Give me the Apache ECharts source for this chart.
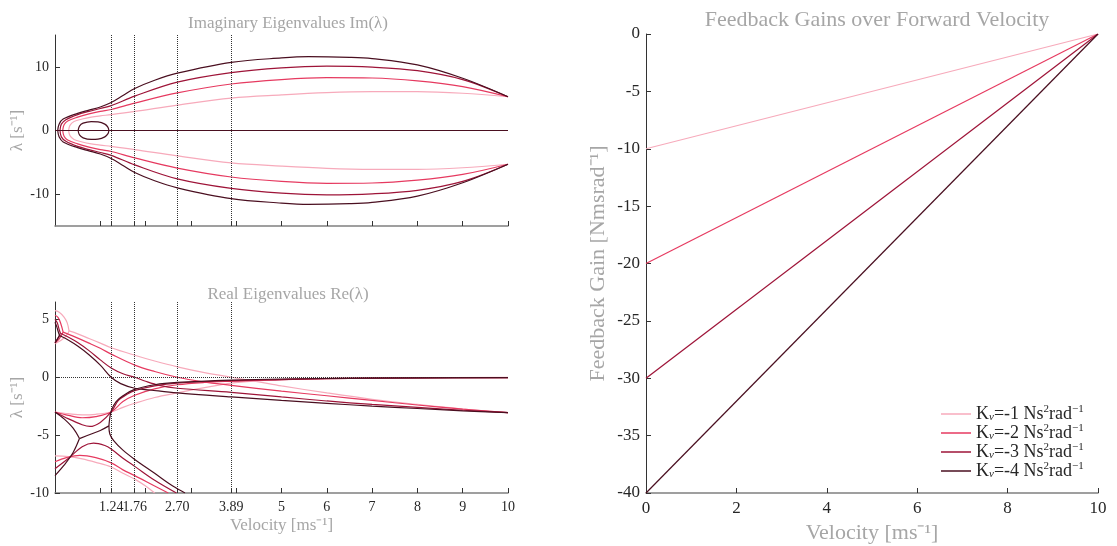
<!DOCTYPE html>
<html><head><meta charset="utf-8">
<script src="https://cdn.jsdelivr.net/npm/echarts@6/dist/echarts.min.js"></script>
<style>html,body{margin:0;padding:0;background:#fff}#c{width:1117px;height:546px}</style>
</head><body><div id="c"></div>
<script>
// ---------- data ----------
const kvValues = [-1, -2, -3, -4];
const seriesColors = ['#f7aabb', '#e63a60', '#9e1438', '#4a0f20'];
const critVel = [1.24, 1.76, 2.70, 3.89];
const velTicks = [1, 1.24, 1.76, 2, 2.70, 3, 3.89, 4, 5, 6, 7, 8, 9, 10];
const velLabelsA = [1.24, 2.70, 5, 7, 9];
const velLabelsB = [1.76, 3.89, 6, 8, 10];
const imTicks = [-10, 0, 10];
const reTicks = [-10, -5, 0, 5];

// Imaginary parts (upper half, conjugate pairs)
const im1 = [[0.30,0],[0.33,0.8],[0.42,1.4],[0.6,1.8],[0.8,2.1],[1.0,2.3],[1.24,2.5],[1.76,3.0],[2.7,4.0],[3.89,5.1],[5,5.6],[6,5.95],[7,6.1],[8,6.1],[9,5.85],[10,5.3]];
const im2 = [[0.17,0],[0.2,0.9],[0.28,1.5],[0.5,2.1],[0.75,2.6],[1.0,3.0],[1.24,3.3],[1.76,4.3],[2.7,5.9],[3.89,7.3],[5,8.0],[6,8.3],[7,8.25],[8,7.8],[9,6.9],[10,5.3]];
const im3 = [[0.11,0],[0.14,1.0],[0.24,1.7],[0.5,2.5],[0.75,3.0],[1.0,3.45],[1.24,3.9],[1.76,5.4],[2.7,7.6],[3.89,9.1],[5,9.85],[6,10.1],[7,9.95],[8,9.4],[9,8.0],[10,5.3]];
const im4 = [[0.06,0],[0.09,1.0],[0.18,1.8],[0.5,2.7],[0.75,3.2],[1.0,3.7],[1.24,4.4],[1.5,5.5],[1.76,6.6],[2.2,7.9],[2.7,9.0],[3.89,10.7],[5,11.4],[5.6,11.6],[6.5,11.5],[7,11.3],[8,10.3],[9,8.2],[10,5.3]];
const im4Loop = [[0.51,0],[0.54,0.7],[0.62,1.15],[0.8,1.4],[0.95,1.35],[1.1,1.0],[1.17,0.5],[1.19,0]];
const imZero = [[0,0],[10,0]];

// Real parts, Kv = -1
const re1Top = [[0,5.75],[0.1,5.6],[0.2,5.2],[0.27,4.7],[0.31,4.0]];
const re1Low = [[0,2.9],[0.1,3.1],[0.2,3.4],[0.27,3.7],[0.31,4.0]];
const re1Weave = [[0.31,4.0],[0.5,3.75],[0.75,3.35],[1.0,2.95],[1.24,2.55],[1.76,1.9],[2.2,1.4],[2.7,0.9],[3.3,0.4],[3.89,0],[4.5,-0.4],[5,-0.75],[6,-1.35],[7,-1.9],[8,-2.35],[9,-2.75],[10,-3.05]];
const re1Caps = [[0,-3.0],[0.3,-3.15],[0.6,-3.25],[0.9,-3.2],[1.24,-3.0],[1.5,-2.6],[1.76,-2.25],[2.2,-1.75],[2.7,-1.35],[3.3,-0.9],[3.89,-0.5],[4.5,-0.3],[5,-0.2],[6,-0.1],[7,-0.06],[8,-0.04],[10,-0.02]];
const re1Cast = [[0,-6.8],[0.3,-6.85],[0.6,-7.05],[0.9,-7.35],[1.24,-7.75],[1.5,-8.3],[1.76,-8.8],[2.0,-9.4],[2.2,-10.0]];

// Real parts, Kv = -2
const re2Top = [[0,5.35],[0.07,5.15],[0.13,4.6],[0.18,3.9]];
const re2Low = [[0,2.95],[0.07,3.2],[0.13,3.55],[0.18,3.9]];
const re2Weave = [[0.18,3.9],[0.4,3.55],[0.75,2.95],[1.0,2.5],[1.24,2.0],[1.76,1.05],[2.2,0.5],[2.7,0],[3.2,-0.35],[3.89,-0.7],[5,-1.2],[6,-1.6],[7,-2.0],[8,-2.4],[9,-2.75],[10,-3.05]];
const re2Caps = [[0,-3.0],[0.3,-3.3],[0.6,-3.5],[0.9,-3.4],[1.24,-3.0],[1.5,-2.1],[1.76,-1.55],[2.2,-1.0],[2.7,-0.65],[3.3,-0.45],[3.89,-0.35],[5,-0.2],[6,-0.12],[7,-0.08],[8,-0.05],[10,-0.03]];
const re2Cast = [[0,-7.3],[0.25,-6.95],[0.55,-6.75],[0.9,-6.95],[1.24,-7.4],[1.5,-8.0],[1.76,-8.5],[2.2,-9.4],[2.5,-10.0]];

// Real parts, Kv = -3
const re3Top = [[0,5.0],[0.05,4.7],[0.09,4.15],[0.12,3.8]];
const re3Low = [[0,3.0],[0.05,3.3],[0.09,3.55],[0.12,3.8]];
const re3Weave = [[0.12,3.8],[0.3,3.45],[0.5,3.0],[0.75,2.3],[1.0,1.5],[1.24,0.8],[1.5,0.3],[1.76,0],[2.0,-0.35],[2.3,-0.7],[2.7,-0.95],[3.89,-1.3],[5,-1.7],[6,-2.05],[7,-2.35],[8,-2.6],[9,-2.85],[10,-3.05]];
const re3Caps = [[0,-3.0],[0.3,-3.6],[0.6,-4.1],[0.77,-4.25],[1.0,-3.9],[1.24,-3.0],[1.4,-2.0],[1.6,-1.45],[1.76,-1.15],[2.2,-0.75],[2.7,-0.5],[3.89,-0.3],[5,-0.2],[6,-0.12],[8,-0.06],[10,-0.03]];
const re3Cast = [[0,-7.9],[0.3,-7.0],[0.6,-6.0],[0.85,-5.7],[1.1,-5.9],[1.24,-6.2],[1.5,-7.0],[1.76,-7.7],[2.2,-8.9],[2.68,-10.0]];

// Real parts, Kv = -4
const re4Top = [[0,4.75],[0.04,4.35],[0.07,3.95],[0.1,3.6]];
const re4Low = [[0,2.95],[0.04,3.2],[0.07,3.4],[0.1,3.6]];
const re4Weave = [[0.1,3.6],[0.3,3.2],[0.5,2.7],[0.75,1.95],[1.0,1.05],[1.24,0],[1.45,-0.55],[1.76,-0.95],[2.1,-1.1],[2.7,-1.35],[3.89,-1.7],[5,-2.0],[6,-2.25],[7,-2.5],[8,-2.7],[9,-2.9],[10,-3.05]];
const re4PairA = [[0,-3.0],[0.2,-3.6],[0.4,-4.4],[0.54,-5.3]];
const re4PairB = [[0,-8.5],[0.2,-7.6],[0.4,-6.5],[0.54,-5.3]];
const re4Cplx = [[0.54,-5.3],[0.8,-4.9],[1.0,-4.6],[1.19,-4.2]];
const re4Up = [[1.19,-4.2],[1.21,-3.5],[1.25,-2.8],[1.35,-2.1],[1.5,-1.6],[1.76,-1.05],[2.2,-0.65],[2.7,-0.45],[3.89,-0.25],[5,-0.15],[7,-0.08],[10,-0.03]];
const re4Down = [[1.19,-4.2],[1.21,-4.9],[1.3,-5.5],[1.5,-6.3],[1.76,-7.1],[2.2,-8.3],[2.6,-9.4],[2.87,-10.0]];

// Feedback gains
const gainVel = [0, 10];
const gain1 = [-10, 0];
const gain2 = [-20, 0];
const gain3 = [-30, 0];
const gain4 = [-40, 0];

// ---------- chart ----------
const FONT = 'Liberation Serif';
const TXT = '#262626';
const GRAY = '#a6a6a6';

const imBranches = [[im1], [im2], [im3], [im4, im4Loop]];
const reBranches = [
  [re1Top, re1Low, re1Weave, re1Caps, re1Cast],
  [re2Top, re2Low, re2Weave, re2Caps, re2Cast],
  [re3Top, re3Low, re3Weave, re3Caps, re3Cast],
  [re4Top, re4Low, re4Weave, re4PairA, re4PairB, re4Cplx, re4Up, re4Down]
];
const gains = [gain1, gain2, gain3, gain4];
const legendNames = kvValues.map(k => 'Kᵥ=' + k + ' Ns²rad⁻¹');

function lineSeries(name, data, color, xi, yi, z, smooth) {
  return {
    type: 'line', name: name, data: data, xAxisIndex: xi, yAxisIndex: yi,
    symbol: 'none', showSymbol: false, smooth: smooth, clip: true, z: z,
    lineStyle: { color: color, width: 1.2 }, itemStyle: { color: color },
    silent: true, animation: false
  };
}

const series = [];
kvValues.forEach((k, i) => {
  const c = seriesColors[i];
  imBranches[i].forEach((b, j) => {
    series.push(lineSeries('im' + i + 'p' + j, b, c, 0, 0, 2 + i, 0.35));
    series.push(lineSeries('im' + i + 'n' + j, b.map(p => [p[0], -p[1]]), c, 0, 0, 2 + i, 0.35));
  });
  series.push(lineSeries('im' + i + 'z', imZero, c, 0, 0, 2 + i, false));
  reBranches[i].forEach((b, j) => {
    series.push(lineSeries('re' + i + 'b' + j, b, c, 1, 1, 2 + i, 0.35));
  });
  series.push(lineSeries(legendNames[i], gainVel.map((v, n) => [v, gains[i][n]]), c, 2, 2, 2 + i, false));
});

const dotted = { type: 'dotted', color: '#333', width: 1 };
series.push({
  type: 'line', name: 'refIm', data: [], xAxisIndex: 0, yAxisIndex: 0, z: 10, silent: true,
  markLine: { symbol: 'none', silent: true, animation: false, label: { show: false }, lineStyle: dotted,
    data: critVel.map(v => ({ xAxis: v })) }
});
series.push({
  type: 'line', name: 'refRe', data: [], xAxisIndex: 1, yAxisIndex: 1, z: 10, silent: true,
  markLine: { symbol: 'none', silent: true, animation: false, label: { show: false }, lineStyle: dotted,
    data: critVel.map(v => ({ xAxis: v })).concat([{ yAxis: 0 }]) }
});

function fmtVel(v) {
  return Number.isInteger(v) ? String(v) : v.toFixed(2);
}

function xAx(grid, labels, name) {
  return {
    type: 'value', gridIndex: grid, min: 0, max: 10,
    axisLine: { show: true, onZero: false, lineStyle: { color: '#808080', width: 1.5 } },
    axisTick: { show: true, inside: true, length: 5, customValues: velTicks, lineStyle: { color: '#333' } },
    axisLabel: { show: !!labels, customValues: labels || velTicks, formatter: fmtVel, hideOverlap: false,
      color: TXT, fontFamily: FONT, fontSize: 14, margin: 7 },
    splitLine: { show: false },
    name: name, nameLocation: 'middle', nameGap: 24,
    nameTextStyle: { color: GRAY, fontFamily: FONT, fontSize: 17 }
  };
}
// label-only companion axis (second set of labels so adjacent labels can touch)
function xLabelAx(grid, labels) {
  return {
    type: 'value', gridIndex: grid, min: 0, max: 10, position: 'bottom', offset: 0,
    axisLine: { show: false }, axisTick: { show: false }, splitLine: { show: false },
    axisLabel: { customValues: labels, formatter: fmtVel, hideOverlap: false,
      color: TXT, fontFamily: FONT, fontSize: 14, margin: 7 }
  };
}
function yAx(grid, min, max, ticks) {
  return {
    type: 'value', gridIndex: grid, min: min, max: max,
    axisLine: { show: true, onZero: false, lineStyle: { color: '#333', width: 1 } },
    axisTick: { show: true, inside: true, length: 5, customValues: ticks, lineStyle: { color: '#333' } },
    axisLabel: { customValues: ticks, color: TXT, fontFamily: FONT, fontSize: 14, margin: 6 },
    splitLine: { show: false },
    name: 'λ [s⁻¹]', nameLocation: 'middle', nameGap: 28, nameRotate: 90,
    nameTextStyle: { color: GRAY, fontFamily: FONT, fontSize: 17 }
  };
}

const legendRich = {
  a: { fontFamily: FONT, fontSize: 18, color: TXT },
  sub: { fontFamily: FONT, fontSize: 11, color: TXT, fontStyle: 'italic', padding: [7, 0, 0, 0] },
  sup: { fontFamily: FONT, fontSize: 11, color: TXT, padding: [0, 0, 9, 0] }
};

const option = {
  backgroundColor: '#fff',
  animation: false,
  title: [
    { text: 'Imaginary Eigenvalues Im(λ)', left: 283, top: 10, textAlign: 'center',
      textStyle: { color: GRAY, fontFamily: FONT, fontSize: 17, fontWeight: 'normal' } },
    { text: 'Real Eigenvalues Re(λ)', left: 283, top: 281, textAlign: 'center',
      textStyle: { color: GRAY, fontFamily: FONT, fontSize: 17, fontWeight: 'normal' } },
    { text: 'Feedback Gains over Forward Velocity', left: 872, top: 4, textAlign: 'center',
      textStyle: { color: GRAY, fontFamily: FONT, fontSize: 22, fontWeight: 'normal' } }
  ],
  grid: [
    { left: 55, top: 35, width: 453, height: 191, outerBoundsMode: 'none' },
    { left: 55, top: 302, width: 453, height: 191, outerBoundsMode: 'none' },
    { left: 646, top: 34, width: 452, height: 459, outerBoundsMode: 'none' }
  ],
  xAxis: [
    xAx(0, null, ''),
    xAx(1, velLabelsA, 'Velocity [ms⁻¹]'),
    {
      type: 'value', gridIndex: 2, min: 0, max: 10, interval: 2,
      axisLine: { show: true, onZero: false, lineStyle: { color: '#808080', width: 1.5 } },
      axisTick: { show: true, inside: true, length: 5, lineStyle: { color: '#333' } },
      axisLabel: { color: TXT, fontFamily: FONT, fontSize: 17, margin: 7 },
      splitLine: { show: false },
      name: 'Velocity [ms⁻¹]', nameLocation: 'middle', nameGap: 26,
      nameTextStyle: { color: GRAY, fontFamily: FONT, fontSize: 22 }
    },
    xLabelAx(1, velLabelsB)
  ],
  yAxis: [
    yAx(0, -15, 15, imTicks),
    yAx(1, -10, 6.5, reTicks),
    {
      type: 'value', gridIndex: 2, min: -40, max: 0, interval: 5,
      axisLine: { show: true, onZero: false, lineStyle: { color: '#333', width: 1 } },
      axisTick: { show: true, inside: true, length: 5, lineStyle: { color: '#333' } },
      axisLabel: { color: TXT, fontFamily: FONT, fontSize: 17, margin: 6 },
      splitLine: { show: false },
      name: 'Feedback Gain [Nmsrad⁻¹]', nameLocation: 'middle', nameGap: 37, nameRotate: 90,
      nameTextStyle: { color: GRAY, fontFamily: FONT, fontSize: 22 }
    }
  ],
  legend: {
    data: legendNames, orient: 'vertical', left: 936, top: 399, itemWidth: 30, itemHeight: 1.5, itemGap: 0,
    icon: 'rect', selectedMode: false,
    formatter: function (name) {
      const k = kvValues[legendNames.indexOf(name)];
      return '{a|K}{sub|v}{a|=' + k + ' Ns}{sup|2}{a|rad}{sup|−1}';
    },
    textStyle: { rich: legendRich, fontFamily: FONT, fontSize: 18, color: TXT }
  },
  series: series
};

const chart = echarts.init(document.getElementById('c'), null, { renderer: 'canvas' });
chart.setOption(option);
</script>
</body></html>
